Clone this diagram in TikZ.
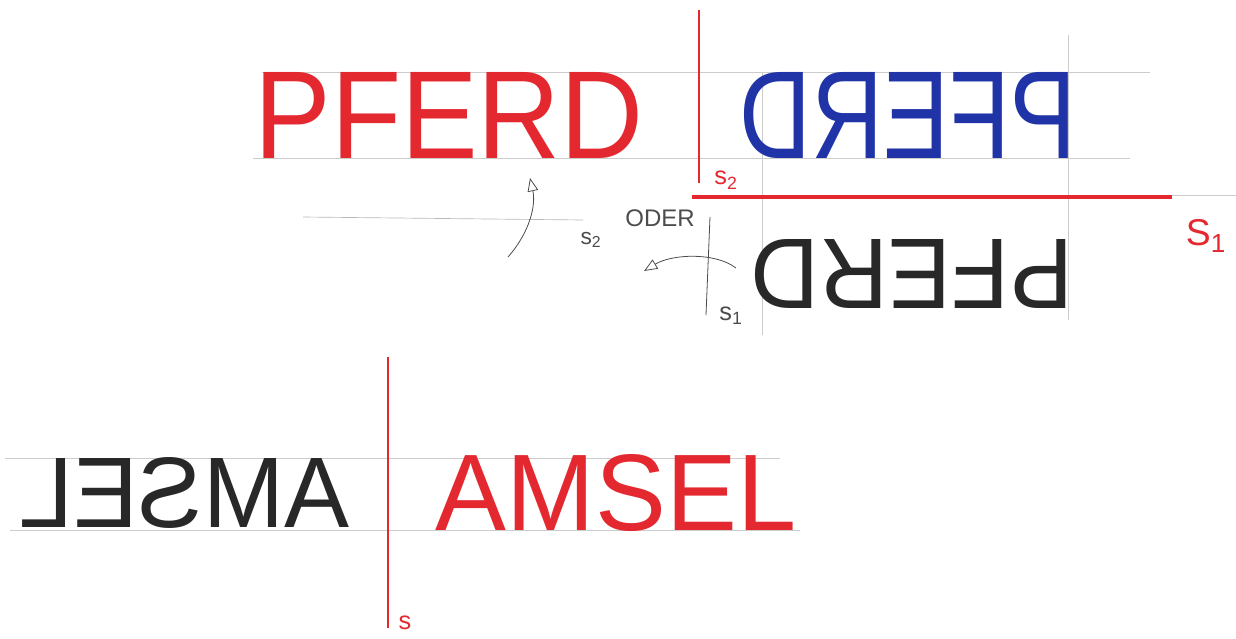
\documentclass[tikz,border=0pt]{standalone}
\usepackage{fontspec}
\setmainfont{Liberation Sans}
\usepackage{graphicx}
\usetikzlibrary{arrows.meta}
\definecolor{penred}{RGB}{228,40,48}
\definecolor{penblue}{RGB}{32,52,168}
\definecolor{printblack}{RGB}{40,40,40}
\newlength{\pxu}\setlength{\pxu}{0.75pt}
\newcommand{\fitword}[3]{\resizebox{#1\pxu}{#2\pxu}{#3}}

\begin{document}
\begin{tikzpicture}[
  x=0.75pt, y=-0.75pt,
  guide/.style={gray!40, line width=0.5pt},
  mirror/.style={penred, line width=2pt},
  sketch/.style={gray!60!black, line width=0.6pt},
  turn/.style={sketch, -{Triangle[open, length=10pt, width=8pt]}},
  word/.style={inner sep=0pt, anchor=center},
  lbl/.style={inner sep=0pt, font=\fontsize{19}{21}\selectfont}
]
  \useasboundingbox (0,0) rectangle (1236,639);

  % Guide lines
  \draw[guide] (262,72) -- (1150,72);
  \draw[guide] (253,158) -- (1130,158);
  \draw[guide] (692,195) -- (1236,195);
  \draw[guide] (762,72) -- (762,335);
  \draw[guide] (1068,35) -- (1068,320);
  \draw[guide] (5,458) -- (780,458);
  \draw[guide] (10,530) -- (800,530);

  % Mirror lines
  \draw[mirror] (699,10) -- (699,183);
  \draw[mirror, line width=2.4pt] (692,197) -- (1172,197);
  \draw[mirror, line width=1.6pt] (388,357) -- (388,628);

  % PFERD and its images
  \node[word, text=penred] (pferd) at (449,115) {\fitword{389}{86}{PFERD}};
  \node[word, text=penblue, xscale=-1] (pferdS2) at (908,115) {\fitword{337}{86}{PFERD}};
  \node[word, text=printblack, rotate=180] (pferdS1) at (912,274.5) {\fitword{322}{69}{PFERD}};

  % AMSEL
  \node[word, text=printblack, xscale=-1] (amselS) at (184,493) {\fitword{330}{70}{AMSEL}};
  \node[word, text=penred] (amsel) at (616,493) {\fitword{360}{76}{AMSEL}};

  % Labels
  \node[lbl, text=penred] (s2) at (726,180) {s\textsubscript{2}};
  \node[lbl, text=penred, font=\fontsize{28}{30}\selectfont] (s1) at (1206,236) {S\textsubscript{1}};
  \node[lbl, text=penred] (s) at (405,623) {s};

  % Sketch of the two turns
  \draw[guide, gray!55] (303,217) -- (583,220);
  \draw[sketch] (710,217) -- (706,315);
  \node[lbl, text=gray!60!black, font=\fontsize{17}{19}\selectfont] (turnS2) at (591,240) {s\textsubscript{2}};
  \node[lbl, text=gray!60!black, font=\fontsize{18}{20}\selectfont] (oder) at (660,218) {ODER};
  \node[lbl, text=gray!60!black] (turnS1) at (731,316) {s\textsubscript{1}};
  \draw[turn] (508,257) .. controls (530,232) and (536,205) .. (530,178);
  \draw[turn] (736,268) .. controls (715,252) and (672,254) .. (644,271);
\end{tikzpicture}
\end{document}
